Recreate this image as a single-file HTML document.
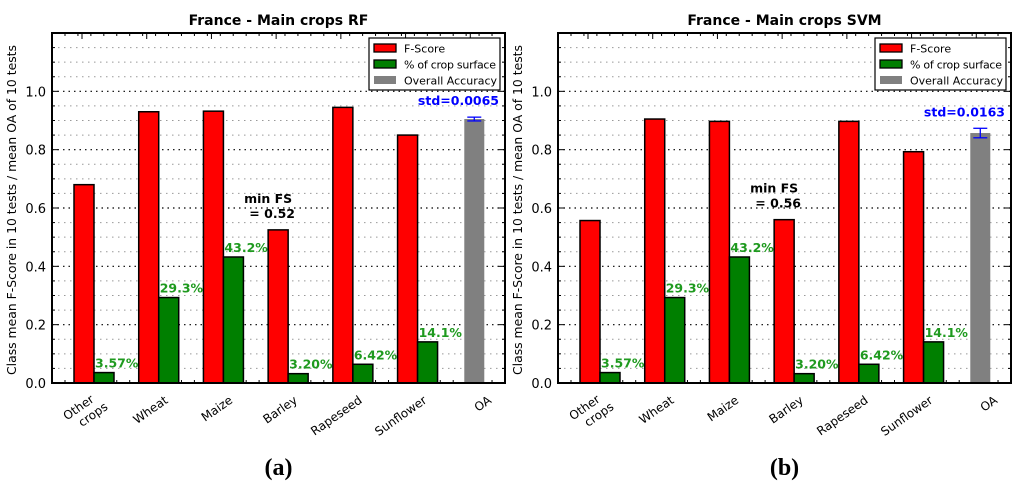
<!DOCTYPE html>
<html><head><meta charset="utf-8">
<style>
body{margin:0;background:#fff;}
svg{display:block;font-family:"DejaVu Sans","Liberation Sans",sans-serif;}
</style></head>
<body>
<svg id="fig" width="1024" height="486" viewBox="0 0 1024 486" xmlns="http://www.w3.org/2000/svg"></svg>
<script>
const categories = ["Other crops","Wheat","Maize","Barley","Rapeseed","Sunflower","OA"];
const rfFScore = [0.68,0.93,0.932,0.525,0.945,0.85];
const svmFScore = [0.557,0.905,0.897,0.56,0.897,0.793];
const cropSurface = [0.0357,0.293,0.432,0.032,0.0642,0.141];
const surfaceLabels = ["3.57%","29.3%","43.2%","3.20%","6.42%","14.1%"];
const rfOA = 0.905, rfStd = 0.0065;
const svmOA = 0.857, svmStd = 0.0163;
const yTicks = [0,0.2,0.4,0.6,0.8,1.0];
const yTickLabels = ["0.0","0.2","0.4","0.6","0.8","1.0"];

const NS="http://www.w3.org/2000/svg";
const svg=document.getElementById('fig');
function mk(tag,attrs,parent){const e=document.createElementNS(NS,tag);for(const k in attrs)e.setAttribute(k,attrs[k]);(parent||svg).appendChild(e);return e;}

function drawChart(ox, title, fs, oa, std, minLabel, letter, id){
  const g=mk('g',{});
  
  
  const L=ox, R=ox+453, T=33, B=383, W=R-L, n=categories.length, gw=W/n;
  const y=v=>B-(v/1.2)*(B-T);
  const x=i=>L+i*gw;
  for(let k=1;k<24;k++){
    const v=k*0.05, yy=y(v), major=(k%4===0);
    const ln=mk('line',{x1:L,x2:R,y1:yy,y2:yy,stroke:major?'#000':'#999','stroke-width':major?1.2:1,'stroke-dasharray':major?'1.5,4':'1.5,4.5'},g);
    
    
    mk('line',{x1:L,x2:L+(major?6:3),y1:yy,y2:yy,stroke:'#000'},g);
    mk('line',{x1:R,x2:R-(major?6:3),y1:yy,y2:yy,stroke:'#000'},g);
  }
  for(let t=L+13;t<R;t+=12.94){
    mk('line',{x1:t,x2:t,y1:T,y2:T+3,stroke:'#000'},g);
    mk('line',{x1:t,x2:t,y1:B,y2:B-3,stroke:'#000'},g);
  }
  for(let i=0;i<n;i++){
    const t=x(i)+30;
    mk('line',{x1:t,x2:t,y1:T,y2:T+6,stroke:'#000'},g);
  }
  yTicks.forEach((v,i)=>{
    const tx=mk('text',{x:L-6,y:y(v)+5,'text-anchor':'end','font-size':13},g);
    tx.textContent=yTickLabels[i];
    
    
  });
  for(let i=0;i<fs.length;i++){
    const r=mk('rect',{x:x(i)+22,y:y(fs[i]),width:20,height:B-y(fs[i]),fill:'#ff0000',stroke:'#000','stroke-width':1.5},g);
    
    
    const gr=mk('rect',{x:x(i)+42,y:y(cropSurface[i]),width:20,height:B-y(cropSurface[i]),fill:'#007f00',stroke:'#000','stroke-width':1.5},g);
    
    
    const tl=mk('text',{x:x(i)+43,y:y(cropSurface[i])-5,'font-size':12.5,'font-weight':'bold',fill:'#1f9a1f'},g);
    tl.textContent=surfaceLabels[i];
    
    
  }
  const oi=6;
  const ob=mk('rect',{x:x(oi)+24,y:y(oa),width:20,height:B-y(oa),fill:'#808080'},g);
  
  
  const cx=x(oi)+34;
  mk('line',{x1:cx,x2:cx,y1:y(oa+std),y2:y(oa-std),stroke:'#0000ff','stroke-width':1.3},g);
  mk('line',{x1:cx-7,x2:cx+7,y1:y(oa+std),y2:y(oa+std),stroke:'#0000ff','stroke-width':1.3},g);
  mk('line',{x1:cx-7,x2:cx+7,y1:y(oa-std),y2:y(oa-std),stroke:'#0000ff','stroke-width':1.3},g);
  const st=mk('text',{x:R-6,y:y(oa+std)-12,'text-anchor':'end','font-size':12.5,'font-weight':'bold',fill:'#0000ff'},g);
  st.textContent='std='+std.toFixed(4);
  
  
  const mx=x(3)+22, my=y(fs[3]);
  const m1=mk('text',{x:mx,y:my-27,'text-anchor':'middle','font-size':12.5,'font-weight':'bold'},g);
  m1.textContent='min FS';
  
  
  const m2=mk('text',{x:mx+4,y:my-12,'text-anchor':'middle','font-size':12.5,'font-weight':'bold'},g);
  m2.textContent=minLabel;
  for(let i=0;i<n;i++){
    const ex=x(i)+52, ey=402;
    const tx=mk('text',{x:ex,y:ey,'text-anchor':'end','font-size':12,transform:`rotate(-35 ${ex} ${ey})`},g);
    
    
    if(i===0){
      const a=mk('tspan',{x:ex-7,dy:-6},tx);a.textContent='Other';
      const b=mk('tspan',{x:ex,dy:14},tx);b.textContent='crops';
    } else tx.textContent=categories[i];
  }
  const fr=mk('rect',{x:L,y:T,width:W,height:B-T,fill:'none',stroke:'#000','stroke-width':2},g);
  
  
  const tt=mk('text',{x:(L+R)/2,y:25,'text-anchor':'middle','font-size':14,'font-weight':'bold'},g);
  tt.textContent=title;
  
  
  const yl=mk('text',{x:0,y:0,'text-anchor':'middle','font-size':12.4,transform:`translate(${L-36},${(T+B)/2+2}) rotate(-90)`},g);
  yl.textContent='Class mean F-Score in 10 tests / mean OA of 10 tests';
  
  
  const lg=mk('g',{},g);
  
  
  mk('rect',{x:R-136,y:38,width:131,height:52,fill:'#fff',stroke:'#000','stroke-width':1.2},lg);
  const items=[['F-Score','#ff0000',true],['% of crop surface','#007f00',true],['Overall Accuracy','#808080',false]];
  items.forEach((it,k)=>{
    const yy=42+k*16;
    const r=mk('rect',{x:R-131,y:yy+2,width:22,height:8,fill:it[1],stroke:it[2]?'#000':'none','stroke-width':1.3},lg);
    
    
    const t=mk('text',{x:R-101,y:yy+10.5,'font-size':11},lg);
    if(it[0]==='% of crop surface'){t.setAttribute('textLength','92');}
    t.textContent=it[0];
    
    
  });
  const lt=mk('text',{x:(L+R)/2,y:475,'text-anchor':'middle','font-size':24,'font-weight':'bold','font-family':'"Liberation Serif",serif'},g);
  lt.textContent='('+letter+')';
  
  
}
drawChart(52,'France - Main crops RF',rfFScore,rfOA,rfStd,'= 0.52','a','rf');
drawChart(558,'France - Main crops SVM',svmFScore,svmOA,svmStd,'= 0.56','b','svm');
</script>
</body></html>
